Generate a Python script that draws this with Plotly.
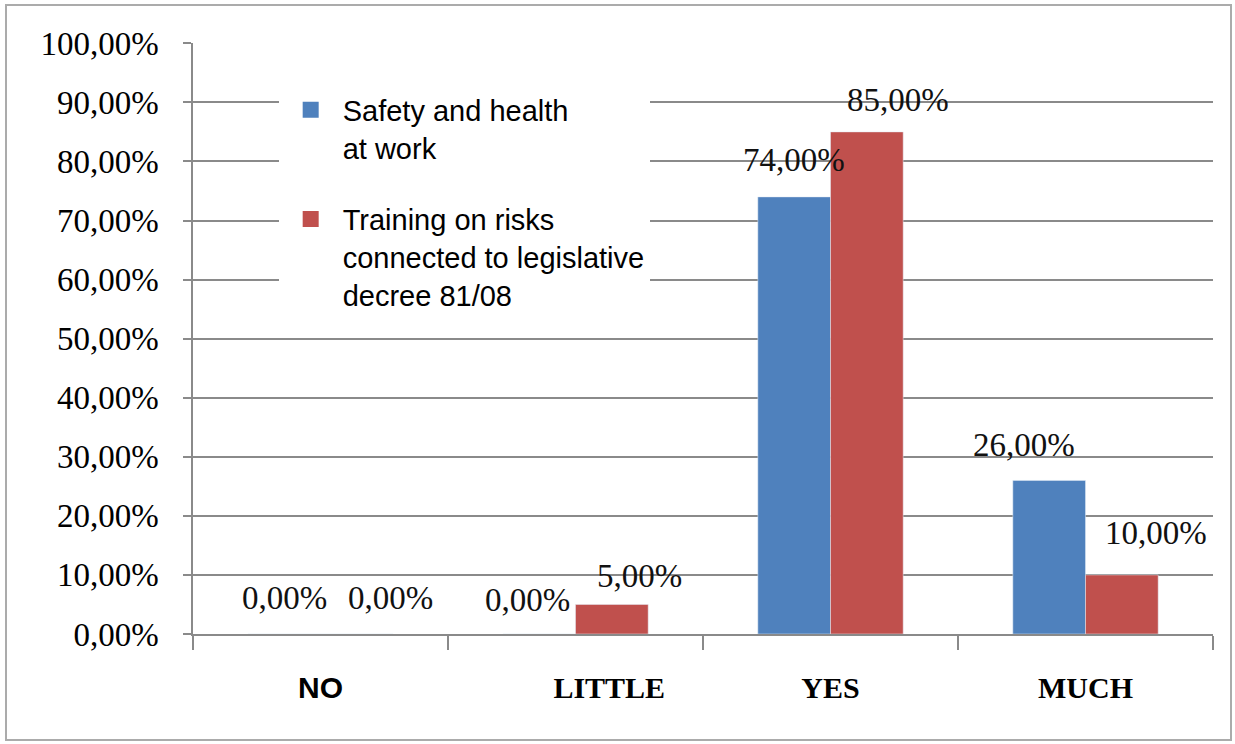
import plotly.graph_objects as go

# Survey answers and the share of respondents for each training topic
categories = ["NO", "LITTLE", "YES", "MUCH"]
category_labels = [
    "<span style='font-family:Liberation Sans'><b>NO</b></span>",
    "\u00a0" * 9 + "<b>LITTLE</b>",
    "<b>YES</b>",
    "<b>MUCH</b>",
]
safety_health = [0.00, 0.00, 0.74, 0.26]
training_risks = [0.00, 0.05, 0.85, 0.10]
series_names = [
    "Safety and health<br>at work",
    "Training on risks<br>connected to legislative<br>decree 81/08",
]
y_tick_values = [0.0, 0.1, 0.2, 0.3, 0.4, 0.5, 0.6, 0.7, 0.8, 0.9, 1.0]

BLUE = "#4F81BD"
RED = "#C0504D"
GRID = "#8A8A8A"
BAR_GAP = 0.43

# per-label nudges (pixels) for the value labels above the bars
safety_label_dx = [0, -12, 0, -25]
training_label_dx = [34, 28, 31, 34]
safety_label_dy = [36, 34, 37, 35]
training_label_dy = [36, 28, 32, 42]

fig = go.Figure()
fig.add_trace(go.Bar(x=categories, y=safety_health, name=series_names[0],
                     marker=dict(color=BLUE), showlegend=False))
fig.add_trace(go.Bar(x=categories, y=training_risks, name=series_names[1],
                     marker=dict(color=RED), showlegend=False))

# legend entries with larger square swatches
for name, color in zip(series_names, [BLUE, RED]):
    fig.add_trace(go.Scatter(x=[None], y=[None], mode="markers", name=name,
                             legendgroup=name,
                             marker=dict(symbol="square", size=18, color=color)))


def pct(v):
    return f"{v:.2%}".replace(".", ",")


half = (1 - BAR_GAP) / 4
annotations = []
for i, cat in enumerate(categories):
    for vals, sign, dxs, dys in ((safety_health, -1, safety_label_dx, safety_label_dy),
                                 (training_risks, 1, training_label_dx, training_label_dy)):
        annotations.append(dict(
            x=i + sign * half, y=vals[i], xref="x", yref="y",
            text=pct(vals[i]), showarrow=False,
            xanchor="center", yanchor="middle",
            xshift=dxs[i], yshift=dys[i],
            font=dict(family="Liberation Serif", size=33, color="#111111"),
        ))

fig.update_layout(
    width=1235, height=744,
    margin=dict(l=193, r=22, t=43, b=110),
    paper_bgcolor="white", plot_bgcolor="white",
    separators=",.",
    barmode="group", bargap=BAR_GAP, bargroupgap=0,
    annotations=annotations,
    legend=dict(
        x=0.084, y=0.93, xanchor="left", yanchor="top",
        bgcolor="white", borderwidth=0,
        font=dict(family="Liberation Sans", size=29, color="black"),
        valign="top", tracegroupgap=31, traceorder="grouped",
        itemwidth=54,
    ),
    shapes=[dict(type="rect", xref="paper", yref="paper",
                 x0=(6 - 193) / 1020, x1=(1231 - 193) / 1020,
                 y0=(634 - 740) / 591, y1=(634 - 5) / 591,
                 line=dict(color="#ABABAB", width=2), fillcolor="rgba(0,0,0,0)",
                 layer="below")],
)

fig.update_xaxes(
    type="category", tickmode="array", tickvals=categories, ticktext=category_labels,
    tickson="boundaries", ticks="outside", ticklen=14, tickwidth=1.5, tickcolor=GRID,
    showline=True, linecolor=GRID, linewidth=1.5, showgrid=False,
    tickfont=dict(family="Liberation Serif", size=30, color="black"),
    ticklabelstandoff=26,
)
fig.update_yaxes(
    range=[0, 1.0005], tickmode="array", tickvals=y_tick_values, tickformat=".2%",
    ticks="outside", ticklen=8, tickwidth=1.5, tickcolor=GRID,
    showline=True, linecolor=GRID, linewidth=1.5,
    showgrid=True, gridcolor=GRID, gridwidth=1.5, zeroline=False,
    tickfont=dict(family="Liberation Serif", size=33, color="black"),
    ticklabelstandoff=18,
)

fig.write_html("out.html")
